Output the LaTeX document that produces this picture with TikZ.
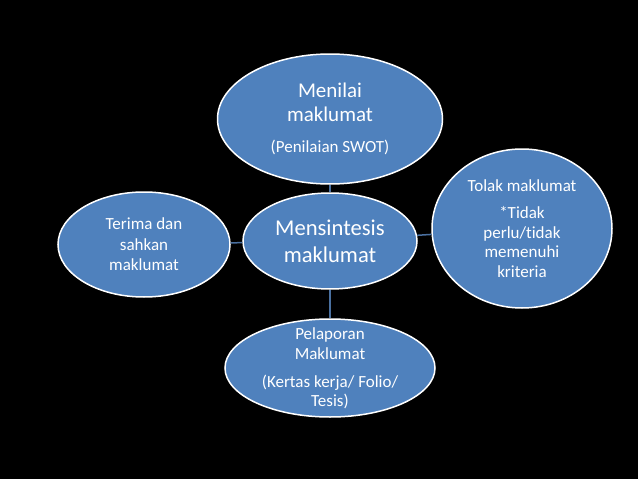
\documentclass[tikz,border=0pt]{standalone}
\usepackage{fontspec}
\setmainfont{Carlito}[Ligatures=NoCommon]
\usetikzlibrary{shapes.geometric}
\definecolor{bubblefill}{RGB}{79,129,189}
\definecolor{linkblue}{RGB}{74,112,160}

\begin{document}
\begin{tikzpicture}[x=1pt,y=-1pt,
  bubble/.style={ellipse,draw=white,line width=1.5pt,fill=bubblefill,text=white,inner sep=-12pt,align=center,font=\fontsize{17}{20}\selectfont},
  link/.style={draw=linkblue,line width=1.5pt}]
\fill[black] (0,0) rectangle (638,479);
\node[bubble,minimum width=225pt,minimum height=130pt,font=\fontsize{21}{24}\selectfont] (menilai) at (330,119) {Menilai\\maklumat\\[7pt]{\fontsize{17}{20}\selectfont (Penilaian SWOT)}};
\node[bubble,minimum width=174pt,minimum height=96pt,font=\fontsize{22.6}{27}\selectfont] (sintesis) at (330,241) {Mensintesis\\maklumat};
\node[bubble,minimum width=172pt,minimum height=105pt,font=\fontsize{17}{20.5}\selectfont] (terima) at (144,244.5) {Terima dan\\sahkan\\maklumat};
\node[bubble,minimum width=180pt,minimum height=159pt,font=\fontsize{17}{19.5}\selectfont] (tolak) at (522,228.5) {Tolak maklumat\\[8pt]*Tidak\\perlu/tidak\\memenuhi\\kriteria};
\node[bubble,minimum width=210pt,minimum height=98pt,font=\fontsize{17}{19}\selectfont] (laporan) at (330,368) {Pelaporan\\[1pt]Maklumat\\[9pt](Kertas kerja/ Folio/\\Tesis)};
\draw[link] (menilai) -- (sintesis);
\draw[link] (sintesis) -- (laporan);
\draw[link] (sintesis) -- (terima);
\draw[link] (sintesis) -- (tolak);
\end{tikzpicture}
\end{document}
